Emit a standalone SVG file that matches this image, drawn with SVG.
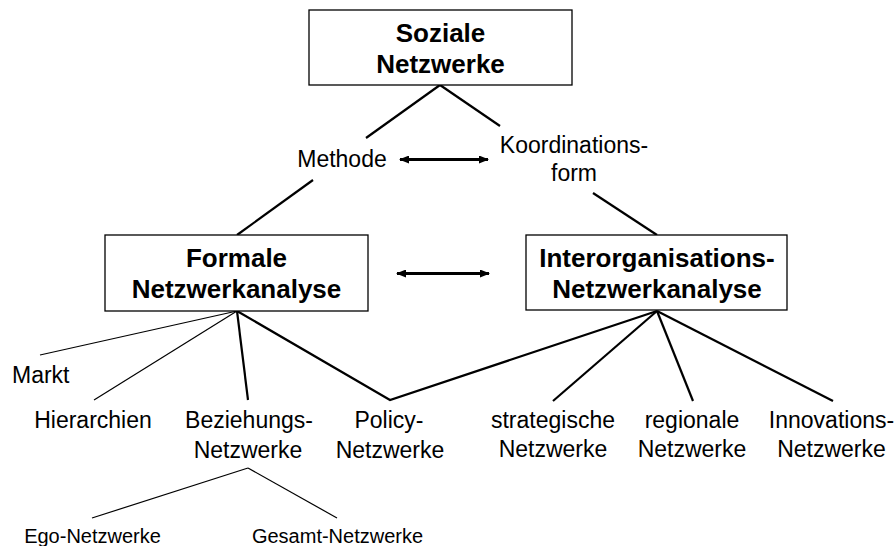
<svg xmlns="http://www.w3.org/2000/svg" width="896" height="546" viewBox="0 0 896 546">
  <style>
    .box { fill: #ffffff; stroke: #000000; stroke-width: 1.3; }
    .title { font-family: "Liberation Sans", Arial, sans-serif; font-weight: bold; font-size: 26px; fill: #000; text-anchor: middle; }
    .label { font-family: "Liberation Sans", Arial, sans-serif; font-size: 23px; fill: #000; text-anchor: middle; }
    .small { font-family: "Liberation Sans", Arial, sans-serif; font-size: 20px; fill: #000; text-anchor: middle; }
    .thin { stroke: #000; stroke-width: 1.2; fill: none; }
    .thick { stroke: #000; stroke-width: 2.2; fill: none; stroke-linejoin: miter; }
    .arrow { stroke: #000; stroke-width: 3; fill: none; marker-start: url(#head); marker-end: url(#head); }
  </style>
  <defs>
    <marker id="head" viewBox="0 0 10 8" refX="9" refY="4" markerWidth="10" markerHeight="8" markerUnits="userSpaceOnUse" orient="auto-start-reverse">
      <path d="M0,0 L10,4 L0,8 Z" fill="#000"/>
    </marker>
  </defs>
  <rect width="896" height="546" fill="#ffffff"/>

  <g id="connectors">
    <!-- Soziale Netzwerke to Methode / Koordinationsform -->
    <line class="thick" x1="440" y1="85" x2="366" y2="138"/>
    <line class="thick" x1="440" y1="85" x2="500" y2="126"/>
    <!-- down to the two analysis boxes -->
    <line class="thick" x1="313" y1="180" x2="237" y2="235"/>
    <line class="thick" x1="593" y1="193" x2="657" y2="235"/>
    <!-- double arrows -->
    <line class="arrow" x1="400" y1="159.5" x2="488" y2="159.5"/>
    <line class="arrow" x1="397" y1="273.5" x2="489" y2="273.5"/>
    <!-- Formale Netzwerkanalyse branches -->
    <line class="thin" x1="237" y1="311" x2="40" y2="355"/>
    <line class="thin" x1="237" y1="311" x2="94" y2="400"/>
    <line class="thick" x1="237" y1="311" x2="248" y2="400"/>
    <polyline class="thick" points="237,311 390,400 657,311"/>
    <!-- Interorganisations-Netzwerkanalyse branches -->
    <line class="thick" x1="657" y1="311" x2="553" y2="401"/>
    <line class="thick" x1="657" y1="311" x2="693" y2="401"/>
    <line class="thick" x1="657" y1="311" x2="833" y2="401"/>
    <!-- Beziehungs-Netzwerke branches -->
    <line class="thin" x1="248" y1="468" x2="92" y2="518"/>
    <line class="thin" x1="248" y1="468" x2="337" y2="518"/>
  </g>

  <g id="soziale-netzwerke">
    <rect class="box" x="309" y="10" width="263" height="75"/>
    <text class="title" x="440.5" y="42">Soziale</text>
    <text class="title" x="440.5" y="73">Netzwerke</text>
  </g>

  <g id="methode">
    <text class="label" x="342" y="167">Methode</text>
  </g>

  <g id="koordinationsform">
    <text class="label" x="574" y="153">Koordinations-</text>
    <text class="label" x="574" y="181">form</text>
  </g>

  <g id="formale-netzwerkanalyse">
    <rect class="box" x="105" y="235" width="263" height="76"/>
    <text class="title" x="236.5" y="267">Formale</text>
    <text class="title" x="236.5" y="298">Netzwerkanalyse</text>
  </g>

  <g id="interorganisations-netzwerkanalyse">
    <rect class="box" x="526" y="235" width="261" height="75"/>
    <text class="title" x="657" y="267">Interorganisations-</text>
    <text class="title" x="657" y="298">Netzwerkanalyse</text>
  </g>

  <g id="markt">
    <text class="label" x="12" y="383" style="text-anchor:start">Markt</text>
  </g>

  <g id="hierarchien">
    <text class="label" x="93" y="428">Hierarchien</text>
  </g>

  <g id="beziehungs-netzwerke">
    <text class="label" x="249" y="428">Beziehungs-</text>
    <text class="label" x="248" y="458">Netzwerke</text>
  </g>

  <g id="policy-netzwerke">
    <text class="label" x="389" y="428">Policy-</text>
    <text class="label" x="390" y="458">Netzwerke</text>
  </g>

  <g id="strategische-netzwerke">
    <text class="label" x="553" y="428">strategische</text>
    <text class="label" x="553" y="457">Netzwerke</text>
  </g>

  <g id="regionale-netzwerke">
    <text class="label" x="692" y="428">regionale</text>
    <text class="label" x="692" y="457">Netzwerke</text>
  </g>

  <g id="innovations-netzwerke">
    <text class="label" x="831.5" y="428">Innovations-</text>
    <text class="label" x="831.5" y="457">Netzwerke</text>
  </g>

  <g id="ego-netzwerke">
    <text class="small" x="92.5" y="543">Ego-Netzwerke</text>
  </g>

  <g id="gesamt-netzwerke">
    <text class="small" x="337.5" y="543">Gesamt-Netzwerke</text>
  </g>
</svg>
